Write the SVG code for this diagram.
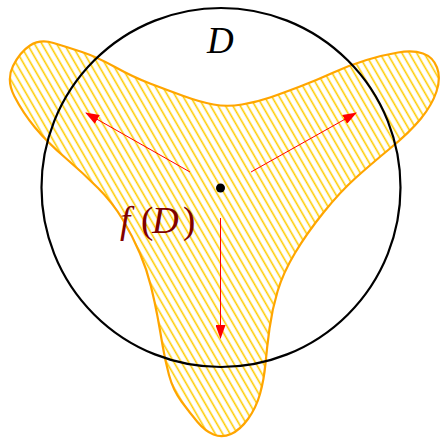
<svg xmlns="http://www.w3.org/2000/svg" width="442" height="438" viewBox="0 0 442 438">
<style>
.tex{font-family:"Liberation Serif","DejaVu Serif",serif;font-size:37px}
.it{font-style:italic}
.arrow{stroke:#ff0000;stroke-width:1;fill:none;marker-end:url(#ah)}
</style>
<defs>
<pattern id="hatch" patternUnits="userSpaceOnUse" width="6.4" height="10" patternTransform="rotate(-30)">
<line x1="1.5" y1="-1" x2="1.5" y2="11" stroke="#ffcc00" stroke-width="1.6"/>
</pattern>
<marker id="ah" viewBox="0 0 14 10" refX="13" refY="5" markerWidth="14" markerHeight="10" markerUnits="userSpaceOnUse" orient="auto">
<path d="M0,0 L14,5 L0,10 Z" fill="#ff0000"/>
</marker>
</defs>
<rect width="442" height="438" fill="#ffffff"/>
<g id="fD">
<path d="M14.5,96.5 Q6,80 13,66 T30,45.5 T53.5,43 T82,52 T115,67 T150,83.5 T183.5,96 T213.5,104.5 T242,104.5 T270,97.5 T300,86.5 T333.5,72.5 T366.5,60 T398,52.5 T423,53.5 T437,67.5 T436.5,91.5 T421,118.5 T390,148.5 T355,178.5 T323.5,212.5 T295,253 T277.5,291.5 T269.5,328.5 T265.5,363.5 T260,394 T248,419 T231,434 T213.5,434.5 T197.5,422 T181.5,401.5 T169,375 T162.5,345 T157.5,316.5 T151,286.5 T140,253.5 T123,220 T98,188 T65,157.5 T35,127.5 T14.5,96.5 Z" fill="url(#hatch)" stroke="#ffa500" stroke-width="2.2"/>
</g>
<g id="D">
<circle cx="221" cy="187.5" r="179.5" fill="none" stroke="#000000" stroke-width="2.2"/>
<text class="tex it" x="207" y="53" fill="#000000">D</text>
</g>
<g id="center">
<circle cx="220.5" cy="188" r="4.5" fill="#000000"/>
</g>
<g id="fDlabel" class="tex" fill="#800000">
<text x="120" y="233"><tspan class="it">f</tspan><tspan x="141">(</tspan><tspan class="it" x="152">D</tspan><tspan x="183">)</tspan></text>
</g>
<g id="connectors">
<line class="arrow" x1="190" y1="172" x2="86" y2="113"/>
<line class="arrow" x1="251" y1="172" x2="356" y2="113"/>
<line class="arrow" x1="220.5" y1="218" x2="220.5" y2="338"/>
</g>
</svg>
